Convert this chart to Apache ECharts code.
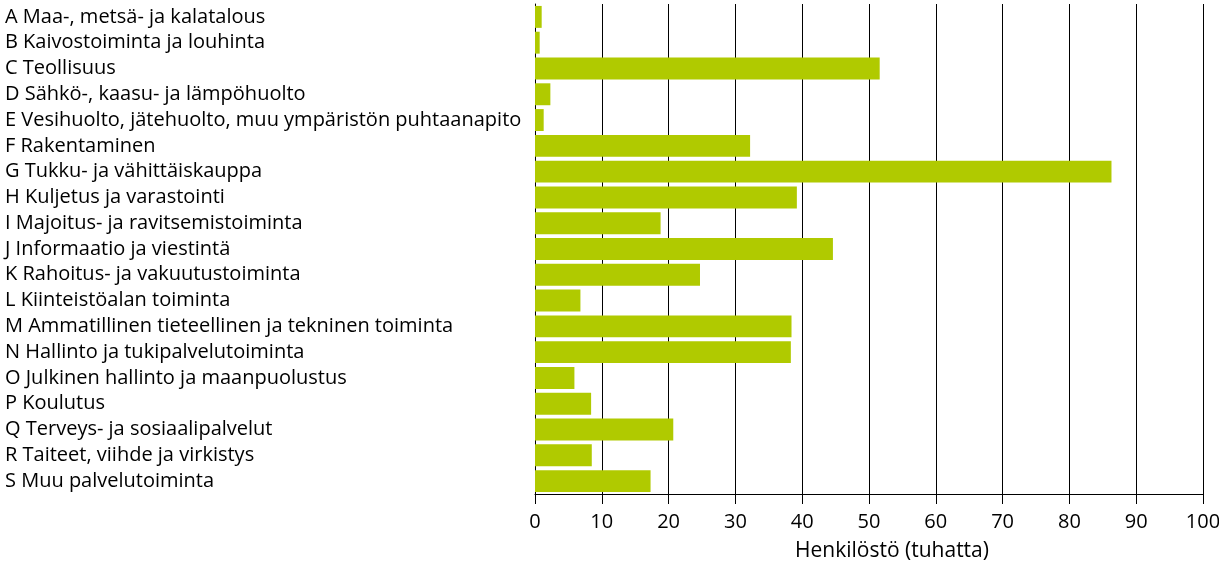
<!DOCTYPE html>
<html><head><meta charset="utf-8">
<script src="https://cdn.jsdelivr.net/npm/echarts@6/dist/echarts.min.js"></script>
<style>html,body{margin:0;padding:0;background:#fff}#c{width:1219px;height:564px}</style>
</head><body><div id="c"></div>
<script>
const categories = [
 "A Maa-, metsä- ja kalatalous",
 "B Kaivostoiminta ja louhinta",
 "C Teollisuus",
 "D Sähkö-, kaasu- ja lämpöhuolto",
 "E Vesihuolto, jätehuolto, muu ympäristön puhtaanapito",
 "F Rakentaminen",
 "G Tukku- ja vähittäiskauppa",
 "H Kuljetus ja varastointi",
 "I Majoitus- ja ravitsemistoiminta",
 "J Informaatio ja viestintä",
 "K Rahoitus- ja vakuutustoiminta",
 "L Kiinteistöalan toiminta",
 "M Ammatillinen tieteellinen ja tekninen toiminta",
 "N Hallinto ja tukipalvelutoiminta",
 "O Julkinen hallinto ja maanpuolustus",
 "P Koulutus",
 "Q Terveys- ja sosiaalipalvelut",
 "R Taiteet, viihde ja virkistys",
 "S Muu palvelutoiminta"
];
const values = [1.0, 0.7, 51.6, 2.3, 1.3, 32.2, 86.3, 39.2, 18.8, 44.6, 24.7, 6.8, 38.4, 38.3, 5.9, 8.4, 20.7, 8.5, 17.3];
const axisTitle = "Henkilöstö (tuhatta)";

const font = "'Open Sans', 'Noto Sans', sans-serif";
const chart = echarts.init(document.getElementById('c'));
chart.setOption({
  animation: false,
  grid: {left: 535, right: 16, top: 4, bottom: 70, containLabel: false, outerBoundsMode: 'none'},
  xAxis: {
    type: 'value', min: 0, max: 100, interval: 10,
    name: axisTitle, nameLocation: 'middle', nameGap: 47,
    nameTextStyle: {color: '#000', fontSize: 21, fontFamily: font, padding: [0, 0, 0, 46]},
    axisLine: {show: true, lineStyle: {color: '#000', width: 1}},
    axisTick: {show: true, length: 10, lineStyle: {color: '#000'}},
    axisLabel: {color: '#000', fontSize: 20, fontFamily: font, margin: 18, hideOverlap: false},
    splitLine: {show: true, lineStyle: {color: '#000', width: 1}}
  },
  yAxis: {
    type: 'category', data: categories, inverse: true,
    axisLine: {show: true, lineStyle: {color: '#000', width: 1}},
    axisTick: {show: false},
    axisLabel: {color: '#000', fontSize: 20, fontFamily: font, align: 'left', margin: 530, interval: 0, hideOverlap: false}
  },
  series: [{
    type: 'bar', data: values, barCategoryGap: '15%',
    itemStyle: {color: '#b0ca00'}
  }]
});
</script></body></html>
